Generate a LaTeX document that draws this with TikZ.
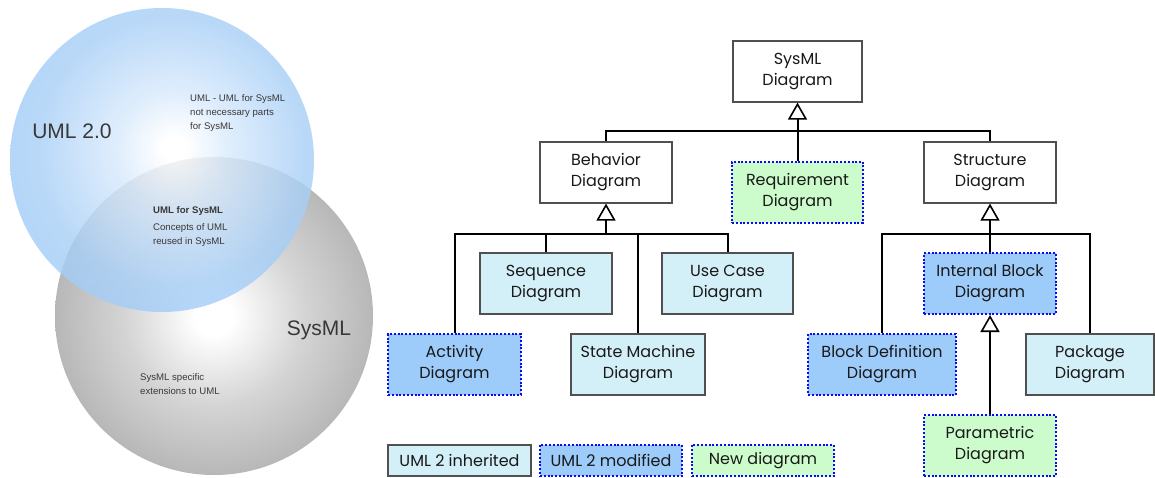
\documentclass[tikz,border=0pt]{standalone}
\usepackage{fontspec}
\setmainfont{Liberation Sans}
\newfontfamily\boxfont{Poppins}
\usetikzlibrary{arrows.meta}

\definecolor{inh}{HTML}{D3EFF8}
\definecolor{modf}{HTML}{9DCBFA}
\definecolor{newd}{HTML}{CCFCCC}
\definecolor{edgegray}{HTML}{505050}
\definecolor{dotblue}{HTML}{0A0AF5}
\definecolor{vblue}{HTML}{94C4F5}
\definecolor{vgray}{HTML}{959595}
\definecolor{vtext}{HTML}{383838}

% soft radial shadings for the two sets
\pgfdeclareradialshading{umlshade}{\pgfpoint{2bp}{2bp}}{color(0bp)=(white); color(2bp)=(white); color(9bp)=(vblue!35!white); color(22bp)=(vblue!80!white); color(40bp)=(vblue); color(100bp)=(vblue)}
\pgfdeclareradialshading{sysshade}{\pgfpoint{0bp}{0bp}}{color(0bp)=(white); color(3bp)=(white); color(14bp)=(vgray!40!white); color(30bp)=(vgray!80!white); color(46bp)=(vgray); color(100bp)=(vgray)}

\tikzset{
  diag/.style={draw, line width=1.2pt, minimum width=132pt, minimum height=61pt,
    inner sep=0pt, align=center, text=black!90,
    font=\boxfont\fontsize{16}{21}\selectfont},
  plainbox/.style={diag, draw=edgegray, fill=white},
  inherited/.style={diag, draw=edgegray, fill=inh},
  modified/.style={diag, draw=dotblue, fill=modf, line width=2pt, dash pattern=on 2pt off 1.8pt},
  newdiag/.style={diag, draw=dotblue, fill=newd, line width=2pt, dash pattern=on 2pt off 1.8pt},
  legendbox/.style={minimum width=142pt, minimum height=31pt},
  conn/.style={draw=black, line width=2pt},
  gen/.style={conn, -{Triangle[open, width=19pt, length=17pt, line width=1.6pt]}},
  bigvenn/.style={text=vtext, font=\fontsize{21}{25}\selectfont},
  smallvenn/.style={text=vtext, align=left, inner sep=0pt, font=\fontsize{9.6}{14}\selectfont},
}

\begin{document}
\begin{tikzpicture}[x=1pt, y=-1pt]
\useasboundingbox (0,0) rectangle (1155,477);

% ---- Venn diagram ----
\shade[shading=sysshade] (214,316) circle[radius=159pt];
\shade[shading=umlshade, fill opacity=0.82] (162,160) circle[radius=152pt];

\node[bigvenn] (umlname) at (72,131) {UML 2.0};
\node[bigvenn] (sysname) at (319,330) {SysML};
\node[smallvenn, anchor=north west] (umlonly) at (190,94) {UML - UML for SysML\\not necessary parts\\for SysML};
\node[smallvenn, anchor=north west, font=\bfseries\fontsize{9.6}{14}\selectfont] (shared) at (153,206) {UML for SysML};
\node[smallvenn, anchor=north west] (sharednote) at (153,223) {Concepts of UML\\reused in SysML};
\node[smallvenn, anchor=north west] (sysonly) at (140,373) {SysML specific\\extensions to UML};

% ---- diagram taxonomy ----
\node[plainbox, minimum width=129pt] (sysml) at (797.5,71.5) {SysML\\Diagram};
\node[plainbox] (beh) at (606,172.5) {Behavior\\Diagram};
\node[newdiag, minimum width=131pt] (req) at (797.5,192) {Requirement\\Diagram};
\node[plainbox] (str) at (990,172.5) {Structure\\Diagram};

\node[inherited] (seq) at (546,283.5) {Sequence\\Diagram};
\node[inherited, minimum width=131pt] (uc) at (727.5,283.5) {Use Case\\Diagram};
\node[modified, minimum width=133pt] (act) at (454.5,364.5) {Activity\\Diagram};
\node[inherited, minimum width=134pt] (sm) at (638,364.5) {State Machine\\Diagram};

\node[modified] (ibd) at (990,283.5) {Internal Block\\Diagram};
\node[modified, minimum width=148pt] (bdd) at (882,364.5) {Block Definition\\Diagram};
\node[inherited, minimum width=128pt] (pkg) at (1090,364.5) {Package\\Diagram};
\node[newdiag] (par) at (990,445.5) {Parametric\\Diagram};

% legend
\node[inherited, legendbox, minimum width=143pt] (leg1) at (459.5,460.5) {UML 2 inherited};
\node[modified, legendbox] (leg2) at (611,460.5) {UML 2 modified};
\node[newdiag, legendbox] (leg3) at (763,460.5) {New diagram};

% generalization buses
\coordinate (bus1) at (797.5,131);
\coordinate (bus2) at (606,234);
\coordinate (bus3) at (990,234);

% SysML Diagram specialisations
\draw[gen] (req.north) -- (sysml.south);
\draw[conn] (beh.north) |- (bus1) -| (str.north);

% Behavior Diagram specialisations
\draw[gen] (bus2) -- (beh.south);
\draw[conn] (act.north) |- (uc.north |- bus2) -- (uc.north);
\draw[conn] (seq.north) -- (seq.north |- bus2);
\draw[conn] (sm.north) -- (sm.north |- bus2);

% Structure Diagram specialisations
\draw[gen] (ibd.north) -- (str.south);
\draw[conn] (bdd.north) |- (pkg.north |- bus3) -- (pkg.north);

% Internal Block Diagram specialisation
\draw[gen] (par.north) -- (ibd.south);
\end{tikzpicture}
\end{document}
